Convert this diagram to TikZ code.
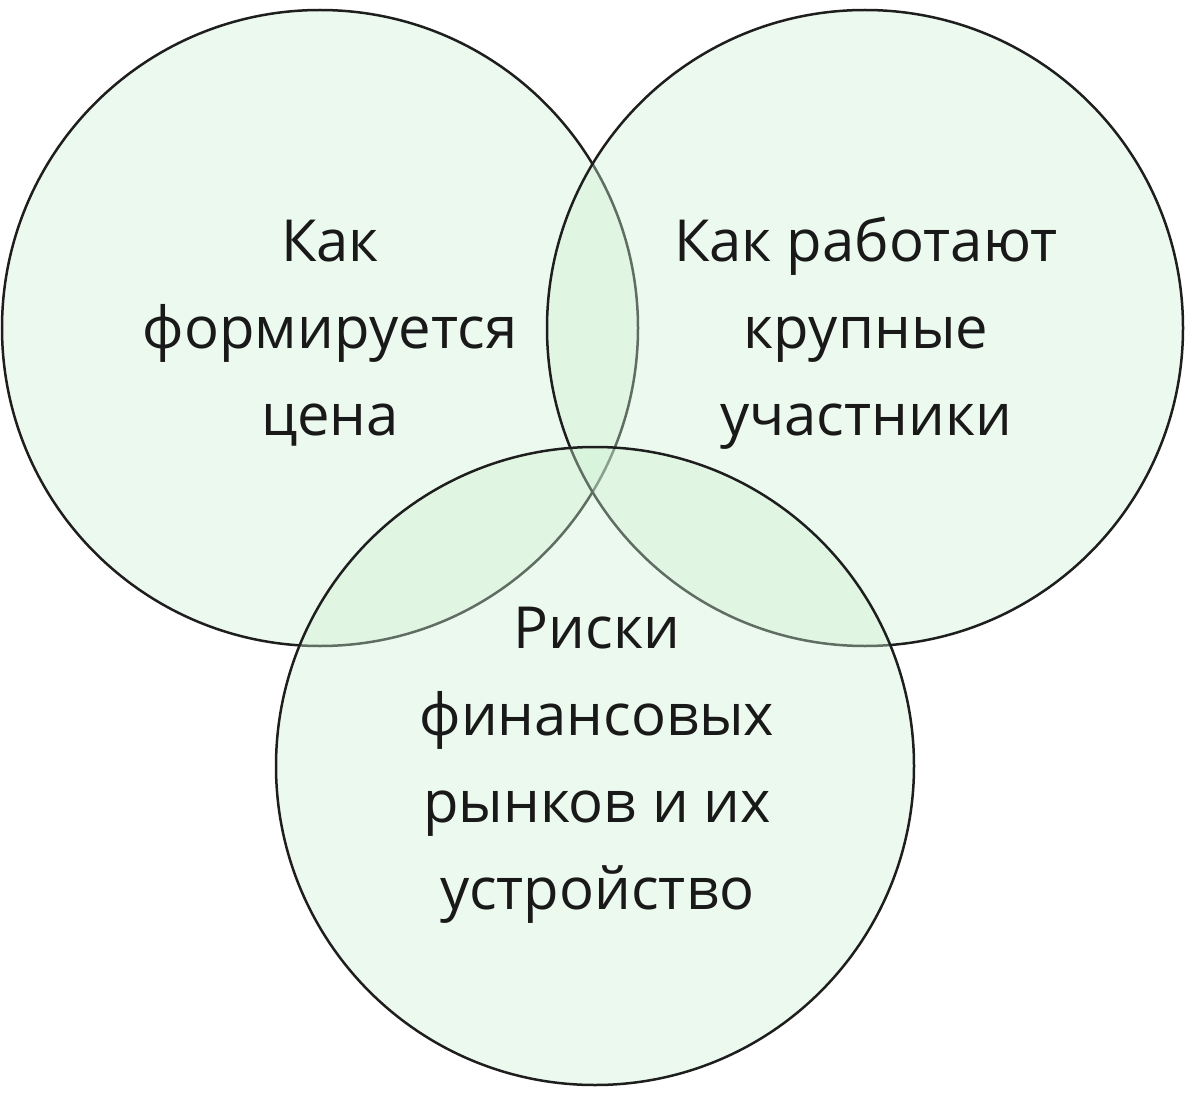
\documentclass[tikz,border=0pt]{standalone}
\usepackage{fontspec}
\setmainfont{Open Sans}
\definecolor{cfill}{RGB}{205,240,210}
\definecolor{cline}{RGB}{30,30,30}
\tikzset{venn/.style={draw=cline,line width=2.5pt,fill=cfill,fill opacity=0.38},
lbl/.style={align=center,font=\fontsize{58}{87}\selectfont,text=black!90}}
\begin{document}
\begin{tikzpicture}[x=1pt,y=-1pt]
\useasboundingbox (0,0) rectangle (1200,1094);
\draw[venn] (320,328) circle (318) coordinate (cl);
\draw[venn] (865,328) circle (318);
\draw[venn] (595,766) circle (319);
\node[lbl] (l) at (330,333) {Как\\формируется\\цена};
\node[lbl] (r) at (866,333) {Как работают\\крупные\\участники};
\node[lbl] (b) at (597,765) {Риски\\финансовых\\рынков и их\\устройство};
\end{tikzpicture}
\end{document}
